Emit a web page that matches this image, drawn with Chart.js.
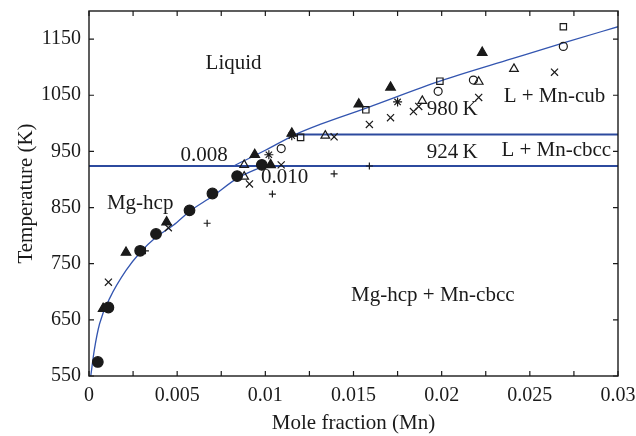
<!DOCTYPE html>
<html>
<head>
<meta charset="utf-8">
<script src="https://cdn.jsdelivr.net/npm/chart.js@4.4.1/dist/chart.umd.min.js"></script>
<style>
  html, body { margin: 0; padding: 0; background: #fff; }
  #wrap { width: 636px; height: 436px; }
</style>
</head>
<body>
<div id="wrap"><canvas id="phaseChart" width="636" height="436"></canvas></div>
<script>
// axis ticks
var xTicks = [0, 0.005, 0.01, 0.015, 0.02, 0.025, 0.03];
var xMinorTicks = [0.0025, 0.0075, 0.0125, 0.0175, 0.0225, 0.0275];
var yTicks = [550, 650, 750, 850, 950, 1050, 1150];

// calculated phase boundaries
var solidusX = [0.0001, 0.0003, 0.0006, 0.0012, 0.0021, 0.0029, 0.0038, 0.0048, 0.0057, 0.0070, 0.0084, 0.0099];
var solidusY = [550, 596, 643, 690, 738, 770, 797, 819, 843, 870, 902, 924];
var liquidusX = [0.0082, 0.0100, 0.0117, 0.0131, 0.0158, 0.0199, 0.0240, 0.0271, 0.0300];
var liquidusY = [924, 952, 980, 998, 1028, 1075, 1115, 1145, 1172];
var eutecticX = [0, 0.03];
var eutecticY = [924, 924];
var peritecticX = [0.0117, 0.03];
var peritecticY = [980, 980];

// experimental points, one pair of arrays per marker
var dotX = [0.0005, 0.0011, 0.0029, 0.0038, 0.0057, 0.0070, 0.0084, 0.0098];
var dotY = [575, 672, 773, 803, 845, 875, 906, 926];
var triX = [0.0008, 0.0021, 0.0044, 0.0094, 0.0103, 0.0115, 0.0153, 0.0171, 0.0223];
var triY = [670, 770, 824, 944, 926, 982, 1034, 1064, 1126];
var openTriX = [0.0088, 0.0088, 0.0134, 0.0189, 0.0221, 0.0241];
var openTriY = [926, 905, 978, 1040, 1074, 1097];
var squareX = [0.0120, 0.0157, 0.0199, 0.0269];
var squareY = [975, 1024, 1075, 1172];
var ringX = [0.0109, 0.0198, 0.0218, 0.0269];
var ringY = [955, 1057, 1077, 1137];
var crossX = [0.0011, 0.0045, 0.0091, 0.0109, 0.0139, 0.0159, 0.0171, 0.0184, 0.0187, 0.0221, 0.0264];
var crossY = [717, 814, 892, 926, 976, 998, 1010, 1021, 1030, 1046, 1091];
var starX = [0.0102, 0.0115, 0.0175];
var starY = [944, 978, 1038];
var plusX = [0.0032, 0.0067, 0.0104, 0.0139, 0.0159];
var plusY = [773, 822, 874, 910, 924];

// region names and boundary notes (text, x, y in data units)
var phaseLabels = [
  ['Liquid', 0.0082, 1106],
  ['Mg-hcp', 0.0029, 857],
  ['0.008', 0.00653, 942],
  ['0.010', 0.0111, 903],
  ['980\u2009K', 0.0206, 1024],
  ['924\u2009K', 0.0206, 948],
  ['L + Mn-cub', 0.0264, 1047],
  ['L + Mn-cbcc', 0.0265, 951],
  ['Mg-hcp + Mn-cbcc', 0.0195, 693]
];

function pts(xs, ys) {
  return xs.map(function(x, i) { return {x: x, y: ys[i]}; });
}

var serif = '"Liberation Serif", "Times New Roman", serif';
var blue = '#3355b0';
var ink = '#1a1a1a';

function curve(xs, ys, width, color) {
  return {
    data: pts(xs, ys), showLine: true, pointRadius: 0, borderColor: color,
    borderWidth: width, cubicInterpolationMode: 'monotone', order: 10
  };
}

function marks(xs, ys, style, radius, filled) {
  return {
    data: pts(xs, ys), showLine: false, pointStyle: style, pointRadius: radius,
    borderColor: ink, borderWidth: 1.2,
    backgroundColor: filled ? ink : 'rgba(255,255,255,0)', order: 1
  };
}

var frameAndText = {
  id: 'frameAndText',
  afterDraw: function(chart) {
    var ctx = chart.ctx, a = chart.chartArea;
    var xs = chart.scales.x, ys = chart.scales.y;
    ctx.save();
    ctx.strokeStyle = ink;
    ctx.lineWidth = 1.4;
    ctx.strokeRect(a.left, a.top, a.right - a.left, a.bottom - a.top);
    // inward ticks on all four sides
    ctx.lineWidth = 1.2;
    ctx.beginPath();
    xTicks.concat(xMinorTicks).forEach(function(v) {
      var px = xs.getPixelForValue(v);
      ctx.moveTo(px, a.bottom); ctx.lineTo(px, a.bottom - 5);
      ctx.moveTo(px, a.top); ctx.lineTo(px, a.top + 5);
    });
    yTicks.forEach(function(v) {
      var py = ys.getPixelForValue(v);
      ctx.moveTo(a.left, py); ctx.lineTo(a.left + 5, py);
      ctx.moveTo(a.right, py); ctx.lineTo(a.right - 5, py);
    });
    ctx.stroke();
    ctx.fillStyle = ink;
    ctx.font = '21px ' + serif;
    ctx.textAlign = 'center';
    ctx.textBaseline = 'middle';
    phaseLabels.forEach(function(l) {
      ctx.fillText(l[0], xs.getPixelForValue(l[1]), ys.getPixelForValue(l[2]));
    });
    ctx.restore();
  }
};

new Chart(document.getElementById('phaseChart'), {
  type: 'scatter',
  data: {
    datasets: [
      curve(solidusX, solidusY, 1.3, blue),
      curve(liquidusX, liquidusY, 1.3, blue),
      curve(eutecticX, eutecticY, 2, '#2c4a9e'),
      curve(peritecticX, peritecticY, 2, '#2c4a9e'),
      marks(dotX, dotY, 'circle', 5.3, true),
      marks(triX, triY, 'triangle', 5.5, true),
      marks(openTriX, openTriY, 'triangle', 5, false),
      marks(squareX, squareY, 'rect', 4.5, false),
      marks(ringX, ringY, 'circle', 4, false),
      marks(crossX, crossY, 'crossRot', 5, false),
      marks(starX, starY, 'star', 4.5, false),
      marks(plusX, plusY, 'cross', 3.5, false)
    ]
  },
  options: {
    responsive: false,
    animation: false,
    layout: { padding: { top: 11, right: 18, left: 0, bottom: 0 } },
    plugins: { legend: { display: false }, tooltip: { enabled: false } },
    scales: {
      x: {
        type: 'linear', min: 0, max: 0.03,
        afterBuildTicks: function(s) { s.ticks = xTicks.map(function(v) { return {value: v}; }); },
        afterFit: function(s) { s.height = 60; s.paddingLeft = 0; s.paddingRight = 0; },
        grid: { display: false, drawTicks: false },
        border: { display: false },
        ticks: {
          autoSkip: false, maxRotation: 0, padding: 8, color: ink,
          font: { family: serif, size: 20 },
          callback: function(v) { return String(+v.toFixed(4)); }
        },
        title: {
          display: true, text: 'Mole fraction (Mn)', color: ink,
          font: { family: serif, size: 21 }, padding: { top: 0, bottom: 0 }
        }
      },
      y: {
        type: 'linear', min: 550, max: 1200,
        afterBuildTicks: function(s) { s.ticks = yTicks.map(function(v) { return {value: v}; }); },
        afterFit: function(s) { s.width = 89; s.paddingTop = 0; s.paddingBottom = 0; },
        grid: { display: false, drawTicks: false },
        border: { display: false },
        ticks: {
          padding: 8, color: ink,
          font: { family: serif, size: 20 },
          callback: function(v) { return String(v); }
        },
        title: {
          display: true, text: 'Temperature (K)', color: ink,
          font: { family: serif, size: 21 }, padding: { top: 14, bottom: 0 }
        }
      }
    }
  },
  plugins: [frameAndText]
});
</script>
</body>
</html>
